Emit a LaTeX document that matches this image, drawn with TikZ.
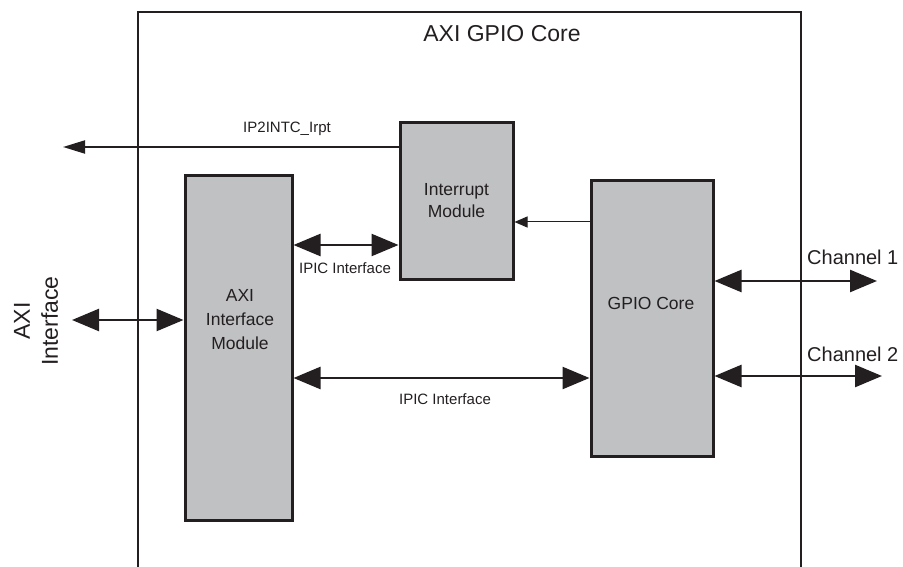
\documentclass[tikz,border=0pt]{standalone}
\usepackage{fontspec}
\setmainfont{Liberation Sans}
\usetikzlibrary{arrows.meta}
\definecolor{ink}{HTML}{231F20}
\definecolor{boxfill}{HTML}{C0C1C3}
\begin{document}
\begin{tikzpicture}[x=1pt,y=-1pt,
  blockbox/.style={draw=ink,fill=boxfill,line width=3pt,inner sep=0pt,rectangle},
  txt/.style={text=ink,inner sep=0pt,align=center},
  big/.style={Triangle[length=27pt,width=22pt]},
  bus/.style={draw=ink,line width=2.5pt,{Triangle[length=27pt,width=22pt]}-{Triangle[length=27pt,width=22pt]}},
  irqline/.style={draw=ink,line width=2pt,-{Triangle[length=22pt,width=13pt]}},
  thinline/.style={draw=ink,line width=1pt,-{Triangle[length=13pt,width=11pt]}}
]
\useasboundingbox (0,0) rectangle (903,567);
% outer core box (open at bottom)
\draw[ink,line width=2.5pt] (138,567) -- (138,12) -- (801,12) -- (801,567);
\node[txt,font=\fontsize{23}{27.6}\selectfont] (title) at (502,34) {AXI GPIO Core};

% blocks
\node[blockbox,minimum width=107pt,minimum height=344pt] (axim) at (238.5,348) {};
\node[txt,font=\fontsize{17.5}{24}\selectfont] (aximtxt) at (240,320) {AXI\\Interface\\Module};
\node[blockbox,minimum width=113pt,minimum height=156pt,
      text=ink,align=center,font=\fontsize{17.5}{22}\selectfont] (intr) at (456.5,201) {Interrupt\\Module};
\node[blockbox,minimum width=122pt,minimum height=275pt] (gpio) at (652,318.5) {};
\node[txt,font=\fontsize{17.5}{21}\selectfont] (gpiotxt) at (651,303) {GPIO Core};

% external AXI interface
\node[txt,rotate=90,font=\fontsize{23}{28}\selectfont] (axiext) at (36,321) {AXI\\Interface};
\coordinate (axiL) at (72,320);
\draw[bus] (axiL) -- (axiL -| axim.west);

% interrupt output
\coordinate (irqL) at (63,147);
\draw[irqline] (irqL -| intr.west) -- (irqL);
\node[txt,font=\fontsize{15}{18}\selectfont] (irqtxt) at (287,129) {IP2INTC\_Irpt};

% IPIC interfaces
\coordinate (ipicA) at (300,245);
\draw[bus] (ipicA -| axim.east) -- (ipicA -| intr.west);
\node[txt,font=\fontsize{15}{18}\selectfont] (ipicAtxt) at (345,268) {IPIC Interface};
\coordinate (ipicB) at (300,378);
\draw[bus] (ipicB -| axim.east) -- (ipicB -| gpio.west);
\node[txt,font=\fontsize{15}{18}\selectfont] (ipicBtxt) at (445,399) {IPIC Interface};

% GPIO to interrupt
\coordinate (gi) at (550,222);
\draw[thinline] (gi -| gpio.west) -- (gi -| intr.east);

% channels
\coordinate (ch1R) at (877,281);
\coordinate (ch2R) at (882,376);
\draw[bus] (ch1R -| gpio.east) -- (ch1R);
\draw[bus] (ch2R -| gpio.east) -- (ch2R);
\node[txt,anchor=west,font=\fontsize{20}{24}\selectfont] (ch1txt) at (807,257) {Channel 1};
\node[txt,anchor=west,font=\fontsize{20}{24}\selectfont] (ch2txt) at (807,354) {Channel 2};
\end{tikzpicture}
\end{document}
